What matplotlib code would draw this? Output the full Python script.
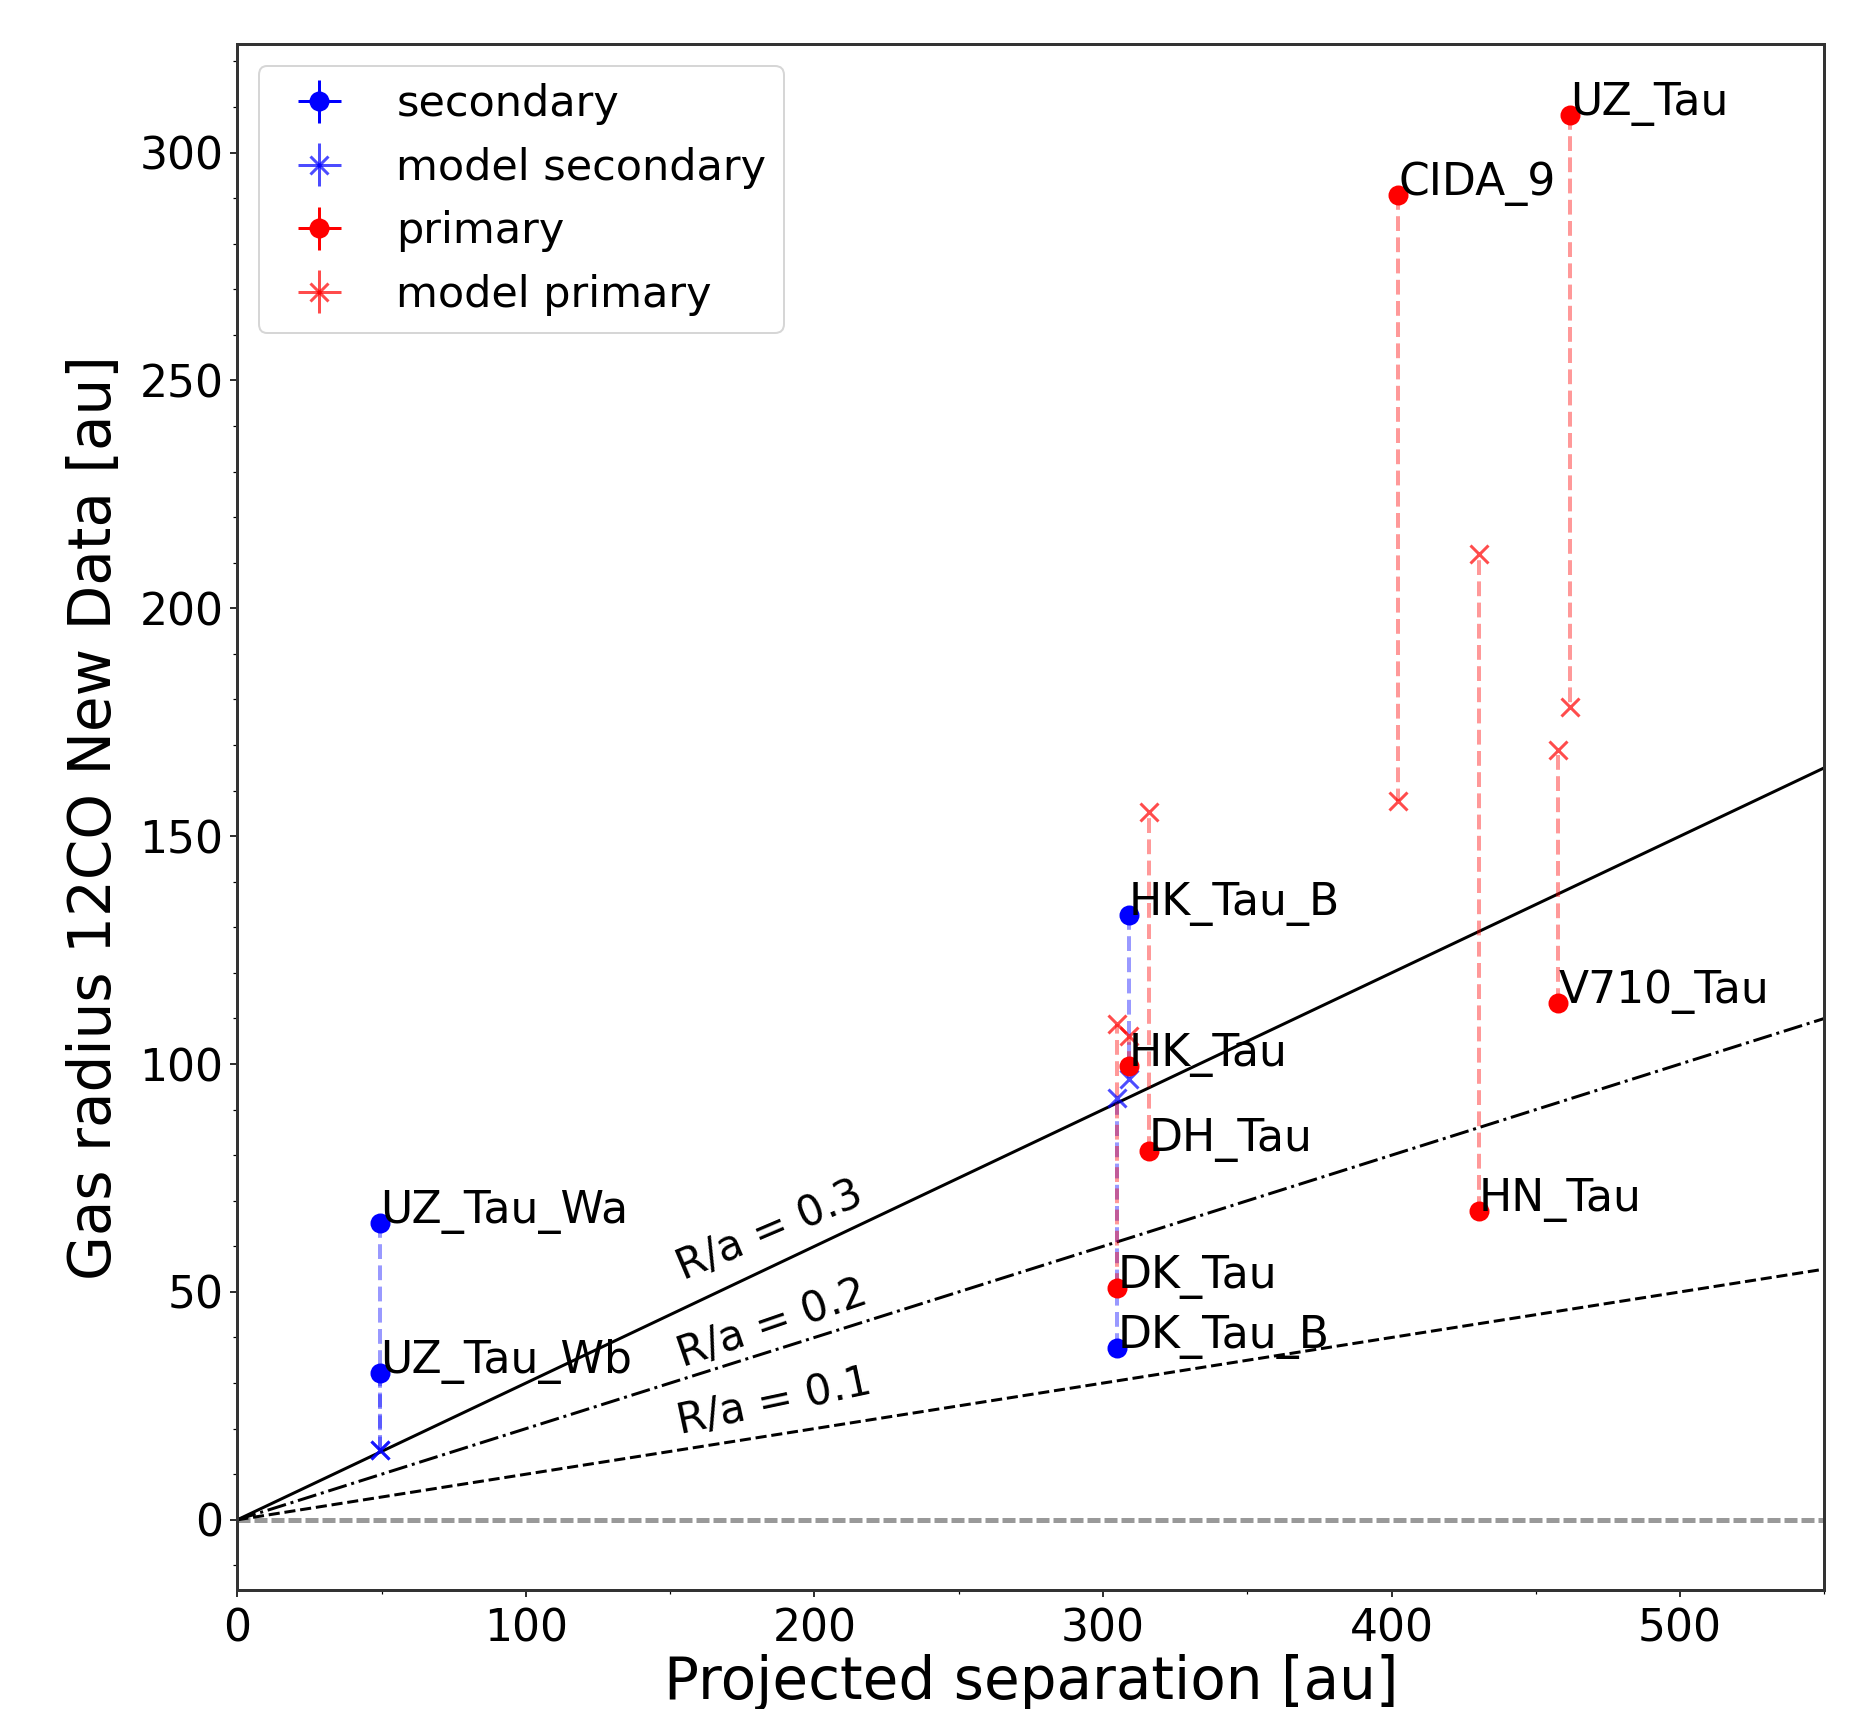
import numpy as np
import matplotlib.pyplot as plt
from matplotlib.ticker import MultipleLocator

# primaries (red)
prim_names = ['UZ_Tau', 'CIDA_9', 'HN_Tau', 'V710_Tau', 'DH_Tau', 'HK_Tau', 'DK_Tau']
prim_sep = [461.9, 402.4, 430.3, 457.8, 315.8, 309.0, 305.0]
prim_r = [308.3, 290.6, 67.8, 113.5, 80.9, 99.6, 50.8]
prim_model = [178.4, 157.7, 212.0, 169.0, 155.2, 106.2, 108.8]

# secondaries (blue)
sec_names = ['UZ_Tau_Wa', 'UZ_Tau_Wb', 'HK_Tau_B', 'DK_Tau_B']
sec_sep = [49.4, 49.4, 309.0, 305.0]
sec_r = [65.1, 32.1, 132.7, 37.6]
sec_model = [15.4, 15.4, 96.7, 92.5]

# R/a reference lines and their labels
ratios = [0.3, 0.2, 0.1]
ratio_labels = ['R/a = 0.3', 'R/a = 0.2', 'R/a = 0.1']
ratio_label_pos = [(154.6, 52.6), (154.2, 33.4), (153.4, 18.7)]
ratio_label_rot = [23, 19, 12]
sep_range = [0, 550]

fig, ax = plt.subplots(figsize=(1854 / 144, 1709 / 144), dpi=144)
fig.subplots_adjust(left=0.128, right=0.984, bottom=0.0696, top=0.974)

ax.axhline(0, color='0.6', ls='--', lw=2.5, dashes=(2.6, 0.8))
sep = np.array(sep_range, dtype=float)
for r, ls in zip(ratios, ['-', '-.', '--']):
    ax.plot(sep, r * sep, color='k', ls=ls, lw=1.5)
for lab, (tx, ty), rot in zip(ratio_labels, ratio_label_pos, ratio_label_rot):
    ax.text(tx, ty, lab, rotation=rot, rotation_mode='anchor', fontsize=21)

# connectors data -> model
for x, y, m in zip(sec_sep, sec_r, sec_model):
    ax.plot([x, x], [y, m], 'b--', alpha=0.4, lw=2)
for x, y, m in zip(prim_sep, prim_r, prim_model):
    ax.plot([x, x], [y, m], 'r--', alpha=0.4, lw=2)

ax.errorbar(sec_sep, sec_r, xerr=0, yerr=0, fmt='o', color='b', ms=9,
            label='secondary')
ax.errorbar(sec_sep, sec_model, xerr=0, yerr=0, fmt='x', color='b', ms=9,
            mew=1.5, alpha=0.7, label='model secondary')
ax.errorbar(prim_sep, prim_r, xerr=0, yerr=0, fmt='o', color='r', ms=9,
            label='primary')
ax.errorbar(prim_sep, prim_model, xerr=0, yerr=0, fmt='x', color='r', ms=9,
            mew=1.5, alpha=0.7, label='model primary')

for n, x, y in zip(sec_names + prim_names, sec_sep + prim_sep, sec_r + prim_r):
    ax.text(x, y, n, fontsize=22)

ymax = max(prim_r + prim_model + sec_r + sec_model)
ax.set_xlim(sep_range)
ax.set_ylim(-0.05 * ymax, 1.05 * ymax)
ax.xaxis.set_major_locator(MultipleLocator(100))
ax.xaxis.set_minor_locator(MultipleLocator(50))
ax.yaxis.set_major_locator(MultipleLocator(50))
ax.yaxis.set_minor_locator(MultipleLocator(10))
ax.tick_params(labelsize=22)
ax.tick_params(axis='x', which='major', pad=5)
for s in ax.spines.values():
    s.set_linewidth(1.5)
    s.set_color('0.2')

ax.set_xlabel('Projected separation [au]', fontsize=29, labelpad=2)
ax.set_ylabel('Gas radius 12CO New Data [au]', fontsize=29, labelpad=8)
ax.legend(loc='upper left', fontsize=21.5)

fig.savefig('out.png', dpi=144)
